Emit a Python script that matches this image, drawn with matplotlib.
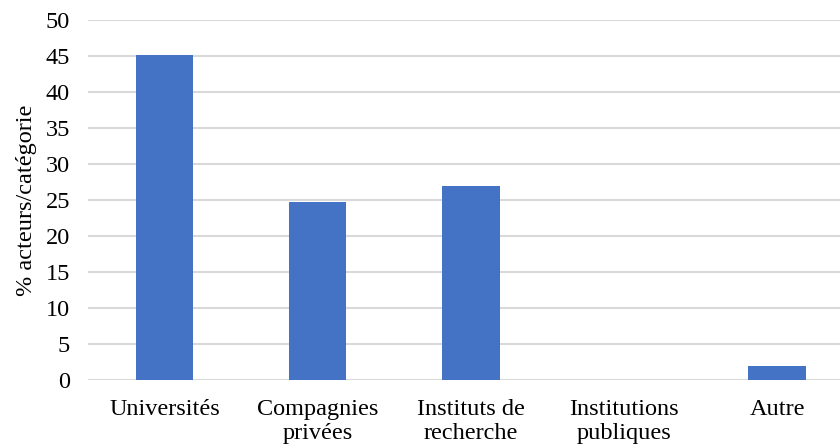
import numpy as np
import matplotlib.pyplot as plt

plt.rcParams['font.family'] = ['Liberation Serif', 'DejaVu Serif']

categories = ['Universités', 'Compagnies\nprivées', 'Instituts de\nrecherche',
              'Institutions\npubliques', 'Autre']
values = [45.1, 24.7, 27.0, 0.0, 1.9]

fig = plt.figure(figsize=(8.4, 4.47), dpi=100)
ax = fig.add_axes([88/840, 67/447, 1 - 88/840, 360/447])

x = np.arange(len(categories))
ax.bar(x, values, width=0.375, color='#4472C4', zorder=3)

ax.set_ylim(0, 50)
ax.set_yticks(np.arange(0, 51, 5))
ax.set_xlim(-0.5, 4.41)
ax.set_xticks(x)
ax.set_xticklabels(categories, fontsize=17.5, linespacing=1.18)
ax.tick_params(axis='y', labelsize=17.5, length=0, pad=13)
ax.tick_params(axis='x', length=0, pad=14)
ax.grid(axis='y', color='#d9d9d9', linewidth=1.5, zorder=0)
for s in ax.spines.values():
    s.set_visible(False)
ax.set_ylabel('% acteurs/catégorie', fontsize=17.5, labelpad=6)

fig.savefig('out.png', dpi=100)
